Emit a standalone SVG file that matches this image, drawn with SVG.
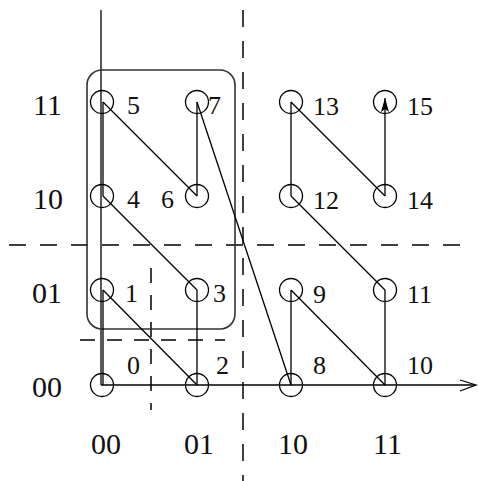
<svg xmlns="http://www.w3.org/2000/svg" width="478" height="481" viewBox="0 0 478 481">
<defs>
<style>
.n circle{fill:none;stroke:#000;stroke-width:1.3}
.n text,.lab{font-family:"Liberation Serif","Times New Roman",serif;font-size:26px;fill:#111}
.lab{font-size:30px}
.c line{stroke:#000;stroke-width:1.3}
.ax{stroke:#000;stroke-width:1.3;fill:none}
.d{stroke:#000;stroke-width:1.5;stroke-dasharray:17 14;fill:none}
.d2{stroke:#000;stroke-width:1.5;stroke-dasharray:15 12;fill:none}
</style>
<marker id="ah" viewBox="0 0 14 8" refX="14" refY="4" markerWidth="14" markerHeight="8" markerUnits="userSpaceOnUse" orient="auto">
<path d="M0,0 L14,4 L0,8 L3,4 Z" fill="#000"/>
</marker>
</defs>
<rect width="478" height="481" fill="#fff"/>
<g id="grid">
<path class="d" d="M9,245 H463"/>
<path class="d" d="M243,10 V481"/>
<path class="d2" d="M80,340 H225"/>
<path class="d2" d="M151,268 V410"/>
</g>
<g id="axes">
<path class="ax" d="M101,10 V385"/>
<path class="ax" d="M101,385 H475"/>
<path class="ax" d="M460,380 L476,385 L460,391"/>
</g>
<rect id="block" x="87" y="70" width="148" height="259" rx="15" fill="none" stroke="#333" stroke-width="1.6"/>
<g id="connectors" class="c">
<line x1="103" y1="385" x2="103" y2="290"/>
<line x1="103" y1="290" x2="197" y2="385"/>
<line x1="197" y1="385" x2="197" y2="290"/>
<line x1="197" y1="290" x2="103" y2="196"/>
<line x1="103" y1="196" x2="103" y2="102"/>
<line x1="103" y1="102" x2="197" y2="196"/>
<line x1="197" y1="196" x2="197" y2="102"/>
<line x1="197" y1="102" x2="291" y2="385"/>
<line x1="291" y1="385" x2="291" y2="290"/>
<line x1="291" y1="290" x2="385" y2="385"/>
<line x1="385" y1="385" x2="385" y2="290"/>
<line x1="385" y1="290" x2="291" y2="196"/>
<line x1="291" y1="196" x2="291" y2="102"/>
<line x1="291" y1="102" x2="385" y2="196"/>
<line x1="385" y1="196" x2="385" y2="98" marker-end="url(#ah)"/>
</g>
<g id="n0" class="n"><circle cx="102" cy="385" r="11.5"/><text x="127" y="374">0</text></g>
<g id="n1" class="n"><circle cx="102" cy="290" r="11.5"/><text x="125" y="302">1</text></g>
<g id="n2" class="n"><circle cx="197" cy="385" r="11.5"/><text x="216" y="374">2</text></g>
<g id="n3" class="n"><circle cx="197" cy="290" r="11.5"/><text x="213" y="302">3</text></g>
<g id="n4" class="n"><circle cx="102" cy="196" r="11.5"/><text x="127" y="208">4</text></g>
<g id="n5" class="n"><circle cx="102" cy="102" r="11.5"/><text x="127" y="114">5</text></g>
<g id="n6" class="n"><circle cx="197" cy="196" r="11.5"/><text x="161" y="208">6</text></g>
<g id="n7" class="n"><circle cx="197" cy="102" r="11.5"/><text x="208" y="114">7</text></g>
<g id="n8" class="n"><circle cx="291" cy="385" r="11.5"/><text x="313" y="374">8</text></g>
<g id="n9" class="n"><circle cx="291" cy="290" r="11.5"/><text x="313" y="303">9</text></g>
<g id="n10" class="n"><circle cx="385" cy="385" r="11.5"/><text x="407" y="374">10</text></g>
<g id="n11" class="n"><circle cx="385" cy="290" r="11.5"/><text x="407" y="303">11</text></g>
<g id="n12" class="n"><circle cx="291" cy="196" r="11.5"/><text x="313" y="209">12</text></g>
<g id="n13" class="n"><circle cx="291" cy="102" r="11.5"/><text x="313" y="115">13</text></g>
<g id="n14" class="n"><circle cx="385" cy="196" r="11.5"/><text x="407" y="209">14</text></g>
<g id="n15" class="n"><circle cx="385" cy="102" r="11.5"/><text x="407" y="115">15</text></g>
<g id="labels">
<text class="lab" x="33" y="115">11</text>
<text class="lab" x="33" y="209">10</text>
<text class="lab" x="32" y="303">01</text>
<text class="lab" x="32" y="397">00</text>
<text class="lab" x="91" y="454">00</text>
<text class="lab" x="184" y="454">01</text>
<text class="lab" x="278" y="454">10</text>
<text class="lab" x="373" y="454">11</text>
</g>
</svg>
